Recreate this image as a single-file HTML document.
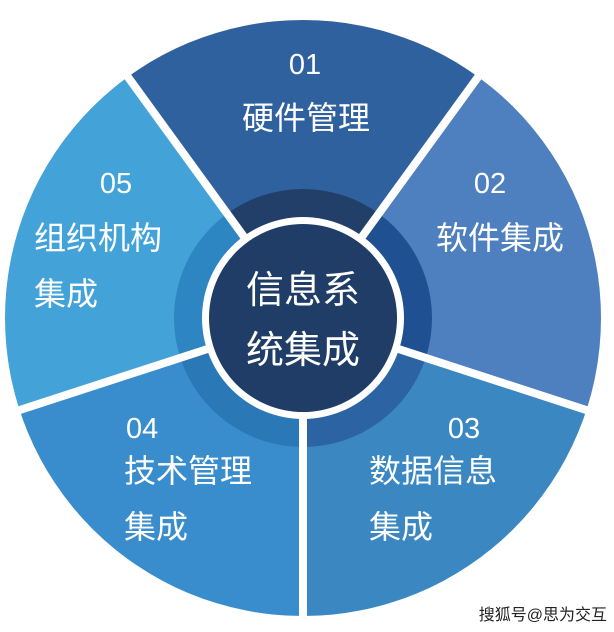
<!DOCTYPE html>
<html><head><meta charset="utf-8"><style>
html,body{margin:0;padding:0;background:#fff;}
svg{display:block}
text{font-family:"Liberation Sans","Noto Sans CJK SC",sans-serif;fill:#fff}
</style></head><body>
<svg width="614" height="632" viewBox="0 0 614 632">
<defs>
<clipPath id="c"><circle cx="303" cy="318" r="298"/></clipPath>
</defs>
<g clip-path="url(#c)">
<!-- segments: angles from up, clockwise -->
<path d="M303,318 L125.7,73.9 A302,302 0 0 1 480.3,73.9 Z" fill="#30619f"/>
<path d="M303,318 L480.3,73.9 A302,302 0 0 1 590.2,411.3 Z" fill="#4e80bf"/>
<path d="M303,318 L590.2,411.3 A302,302 0 0 1 303,620 Z" fill="#3a87c2"/>
<path d="M303,318 L303,620 A302,302 0 0 1 15.8,411.3 Z" fill="#3a8dcd"/>
<path d="M303,318 L15.8,411.3 A302,302 0 0 1 125.7,73.9 Z" fill="#43a3d9"/>
</g>
<!-- ring -->
<g>
<path d="M303,318 L227.2,213.6 A129,129 0 0 1 378.8,213.6 Z" fill="#223f69"/>
<path d="M303,318 L378.8,213.6 A129,129 0 0 1 425.7,357.9 Z" fill="#1f5092"/>
<path d="M303,318 L425.7,357.9 A129,129 0 0 1 303,447 Z" fill="#2c63a3"/>
<path d="M303,318 L303,447 A129,129 0 0 1 180.3,357.9 Z" fill="#2a78b6"/>
<path d="M303,318 L180.3,357.9 A129,129 0 0 1 227.2,213.6 Z" fill="#2d85c2"/>
</g>
<!-- dividers -->
<g stroke="#fff" stroke-width="8">
<line x1="303" y1="318" x2="125.7" y2="73.9"/>
<line x1="303" y1="318" x2="480.3" y2="73.9"/>
<line x1="303" y1="318" x2="590.2" y2="411.3"/>
<line x1="303" y1="318" x2="303" y2="625"/>
<line x1="303" y1="318" x2="15.8" y2="411.3"/>
</g>
<circle cx="303" cy="318" r="101" fill="#fff"/>
<circle cx="303" cy="318" r="94" fill="#1f3d66"/>
<text x="303" y="303" font-size="38" text-anchor="middle">信息系</text>
<text x="303" y="363" font-size="38" text-anchor="middle">统集成</text>

<text x="305" y="74" font-size="29" text-anchor="middle">01</text>
<text x="306" y="129" font-size="32" text-anchor="middle">硬件管理</text>

<text x="490" y="193" font-size="29" text-anchor="middle">02</text>
<text x="500" y="249" font-size="32" text-anchor="middle">软件集成</text>

<text x="116" y="193" font-size="29" text-anchor="middle">05</text>
<text x="34" y="249" font-size="32">组织机构</text>
<text x="34" y="305" font-size="32">集成</text>

<text x="126" y="438" font-size="29">04</text>
<text x="124" y="482" font-size="32">技术管理</text>
<text x="124" y="538" font-size="32">集成</text>

<text x="464" y="438" font-size="29" text-anchor="middle">03</text>
<text x="369" y="482" font-size="32">数据信息</text>
<text x="369" y="538" font-size="32">集成</text>

<text x="607" y="620" font-size="16" text-anchor="end" style="fill:#222">搜狐号@思为交互</text>
</svg>
</body></html>
